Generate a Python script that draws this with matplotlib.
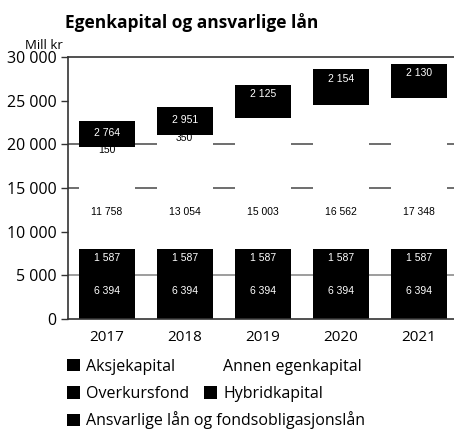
import numpy as np
import matplotlib
matplotlib.use('Agg')
import matplotlib.pyplot as plt
from matplotlib.ticker import FuncFormatter

plt.rcParams['font.family'] = ['Open Sans', 'DejaVu Sans']

# Mill kr
years       = ['2017', '2018', '2019', '2020', '2021']
aksje       = [6394, 6394, 6394, 6394, 6394]
overkurs    = [1587, 1587, 1587, 1587, 1587]
annen       = [11758, 13054, 15003, 16562, 17348]
hybrid      = [150, 350, 1750, 1900, 1800]
ansvarlige  = [2764, 2951, 2125, 2154, 2130]

def fmt(v):
    return '{:,}'.format(int(v)).replace(',', ' ')

fig = plt.figure(figsize=(4.54, 4.30), dpi=100)
ax = fig.add_axes([0.149, 0.258, 0.859, 0.609])

x = np.arange(len(years))
w = 0.717
aksje = np.array(aksje)
overkurs = np.array(overkurs)
annen = np.array(annen)
hybrid = np.array(hybrid)
ansvarlige = np.array(ansvarlige)

b0 = np.zeros(len(years))
b1 = b0 + aksje
b2 = b1 + overkurs
b3 = b2 + annen
b4 = b3 + hybrid

#grid lines sit behind the bars
ax.axhline(5000, color='#8c8c8c', lw=1.2, zorder=1)
for gy in [15000, 20000]:
    ax.axhline(gy, color='#555555', lw=1.2, zorder=1)

h_aksje = ax.bar(x, aksje, w, bottom=b0, color='black', label='Aksjekapital', zorder=2)
h_over = ax.bar(x, overkurs, w, bottom=b1, color='black', label='Overkursfond', zorder=2)
h_annen = ax.bar(x, annen, w, bottom=b2, color='white', label='Annen egenkapital', zorder=2)
h_hyb = ax.bar(x, hybrid, w, bottom=b3, color='black', label='Hybridkapital', zorder=4)
h_ans = ax.bar(x, ansvarlige, w, bottom=b4, color='black',
               label='Ansvarlige lån og fondsobligasjonslån', zorder=4)

fs = 7.5
lab = dict(fontsize=fs, ha='center', va='center', family='Liberation Sans')
for i in range(len(years)):
    ax.text(x[i], b0[i] + aksje[i] / 2, fmt(aksje[i]), color='white', zorder=5, **lab)
    ax.text(x[i], b1[i] + overkurs[i] / 2 - 150, fmt(overkurs[i]), color='white', zorder=5, **lab)
    ax.text(x[i], 12300, fmt(annen[i]), color='black', zorder=5, **lab)
    ax.annotate(fmt(hybrid[i]), (x[i], b3[i] + hybrid[i] / 2), xytext=(0, -3),
                textcoords='offset points', color='black', zorder=3, **lab)
    ax.text(x[i], b4[i] + ansvarlige[i] / 2, fmt(ansvarlige[i]), color='white', zorder=5, **lab)

ax.set_xlim(-0.5, 4.5)
ax.set_ylim(0, 30000)
ax.set_yticks(np.arange(0, 30001, 5000))
ax.yaxis.set_major_formatter(FuncFormatter(lambda v, p: fmt(v)))
ax.set_xticks(x)
ax.set_xticklabels(years)
ax.tick_params(axis='x', length=0, pad=8, labelsize=11)
ax.tick_params(axis='y', length=5, width=1, color='#333333', labelsize=11.5, pad=3)
for s in ['left', 'top', 'bottom']:
    ax.spines[s].set_color('#333333')
    ax.spines[s].set_linewidth(1.2)
ax.spines['right'].set_visible(False)

fig.text(0.143, 0.947, 'Egenkapital og ansvarlige lån', fontsize=12.5, fontweight='bold',
         ha='left', va='center')
fig.text(0.139, 0.895, 'Mill kr', fontsize=9.5, ha='right', va='center')

leg_kw = dict(frameon=False, fontsize=11.5, handlelength=0.8, handleheight=0.8,
              handletextpad=0.4, borderpad=0, borderaxespad=0)
fig.legend([h_aksje, h_over, h_annen, h_hyb],
           ['Aksjekapital', 'Overkursfond', 'Annen egenkapital', 'Hybridkapital'],
           ncol=2, loc='upper left', bbox_to_anchor=(0.147, 0.166),
           columnspacing=0.95, labelspacing=0.72, **leg_kw)
fig.legend([h_ans], ['Ansvarlige lån og fondsobligasjonslån'], loc='upper left',
           bbox_to_anchor=(0.147, 0.043), **leg_kw)

fig.savefig('out.png', dpi=100)
